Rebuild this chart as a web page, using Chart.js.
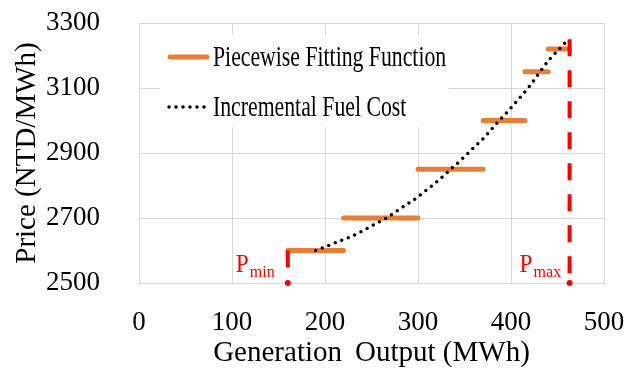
<!DOCTYPE html>
<html>
<head>
<meta charset="utf-8">
<script src="https://cdn.jsdelivr.net/npm/chart.js@4.4.1/dist/chart.umd.min.js"></script>
<style>
  html, body { margin: 0; padding: 0; background: #fff; }
  #wrap { width: 626px; height: 374px; }
</style>
</head>
<body>
<div id="wrap"><canvas id="chart"></canvas></div>
<script>
// tick labels
const xTicks = [0, 100, 200, 300, 400, 500];
const yTicks = [2500, 2700, 2900, 3100, 3300];

// piecewise fitting function, one flat step per block
const stepStart = [160, 220, 300, 370, 415, 440];
const stepEnd   = [220, 300, 370, 415, 440, 463];
const stepPrice = [2600, 2700, 2850, 3000, 3150, 3220];

// incremental fuel cost
const costOutput = [190, 206, 222, 237, 251, 266, 280, 294, 307, 320, 333, 346, 358, 371, 383, 395, 407, 419, 430, 441, 452, 460];
const costPrice  = [2600, 2618, 2636, 2655, 2677, 2700, 2727, 2753, 2781, 2811, 2844, 2878, 2911, 2947, 2986, 3023, 3062, 3102, 3145, 3187, 3220, 3245];

// generation limits
const pMin = 160, pMinTop = 2600;
const pMax = 463, pMaxTop = 3250;

const ORANGE = '#ED7D31';
const RED = '#FF0000';
const GRID = '#d9d9d9';

Chart.defaults.font.family = "'Liberation Serif', 'Times New Roman', serif";
Chart.defaults.color = '#000';

// steps are split with a null so each one is drawn on its own
const stepPoints = [];
stepStart.forEach((s, i) => {
    stepPoints.push({ x: s, y: stepPrice[i] }, { x: stepEnd[i], y: stepPrice[i] }, { x: stepEnd[i], y: null });
});

const costPoints = costOutput.map((x, i) => ({ x: x, y: costPrice[i] }));

// squeezed text like the original figure
function narrowText(ctx, text, x, y, sx) {
    ctx.save();
    ctx.translate(x, y);
    ctx.scale(sx, 1);
    ctx.fillText(text, 0, 0);
    ctx.restore();
}

// fixed plot box, no extra label padding
function fixBox(s, size) {
    if (s.isHorizontal()) s.height = size; else s.width = size;
    s.paddingTop = 0;
    s.paddingBottom = 0;
    s.paddingLeft = 0;
    s.paddingRight = 0;
}

const legendBox = {
    id: 'legendBox',
    beforeDatasetsDraw(chart) {
        const { ctx, chartArea } = chart;
        const left = chartArea.left + 21;
        const top = chartArea.top + 12;
        ctx.save();
        ctx.fillStyle = '#fff';
        ctx.fillRect(left, top, 289, 92);

        // piecewise sample
        ctx.strokeStyle = ORANGE;
        ctx.lineWidth = 5;
        ctx.lineCap = 'round';
        ctx.beginPath();
        ctx.moveTo(left + 10, top + 22);
        ctx.lineTo(left + 47, top + 22);
        ctx.stroke();

        // dotted sample
        ctx.strokeStyle = '#000';
        ctx.lineWidth = 3.5;
        ctx.setLineDash([0, 7]);
        ctx.beginPath();
        ctx.moveTo(left + 9, top + 72);
        ctx.lineTo(left + 45, top + 72);
        ctx.stroke();
        ctx.setLineDash([]);

        ctx.fillStyle = '#000';
        ctx.font = "29px 'Liberation Serif'";
        ctx.textBaseline = 'alphabetic';
        ctx.textAlign = 'left';
        narrowText(ctx, chart.data.datasets[3].label, left + 53, top + 31, 0.75);
        narrowText(ctx, chart.data.datasets[2].label, left + 53, top + 81, 0.75);
        ctx.restore();
    },
    afterDatasetsDraw(chart) {
        const { ctx, scales } = chart;
        const base = scales.y.getPixelForValue(yTicks[0]);
        const marks = [[pMin, 'min', 52], [pMax, 'max', 50]];
        ctx.save();
        ctx.fillStyle = RED;
        ctx.textBaseline = 'alphabetic';
        ctx.textAlign = 'left';
        marks.forEach(([v, sub, off]) => {
            const x = scales.x.getPixelForValue(v) - off;
            ctx.font = "26px 'Liberation Serif'";
            narrowText(ctx, 'P', x, base - 11, 0.9);
            const w = ctx.measureText('P').width * 0.9;
            ctx.font = "16px 'Liberation Serif'";
            ctx.fillText(sub, x + w + 1, base - 6);
        });
        ctx.restore();
    }
};

new Chart(document.getElementById('chart'), {
    type: 'line',
    data: {
        datasets: [
            {
                label: 'Pmin',
                data: [{ x: pMin, y: pMinTop }, { x: pMin, y: yTicks[0] }],
                borderColor: RED,
                borderWidth: 4,
                borderDash: [17, 14],
                pointRadius: [0, 3],
                pointBackgroundColor: RED,
                pointBorderWidth: 0,
                clip: false
            },
            {
                label: 'Pmax',
                data: [{ x: pMax, y: pMaxTop }, { x: pMax, y: yTicks[0] }],
                borderColor: RED,
                borderWidth: 4,
                borderDash: [17, 14],
                pointRadius: [0, 3],
                pointBackgroundColor: RED,
                pointBorderWidth: 0,
                clip: false
            },
            {
                label: 'Incremental Fuel Cost',
                data: costPoints,
                borderColor: '#000',
                borderWidth: 3.5,
                borderDash: [0, 7],
                borderCapStyle: 'round',
                cubicInterpolationMode: 'monotone',
                pointRadius: 0
            },
            {
                label: 'Piecewise Fitting Function',
                data: stepPoints,
                borderColor: ORANGE,
                borderWidth: 5,
                borderCapStyle: 'round',
                pointRadius: 0,
                spanGaps: false
            }
        ]
    },
    options: {
        responsive: true,
        maintainAspectRatio: false,
        animation: false,
        layout: { padding: { top: 23, right: 22, left: 0, bottom: 0 } },
        plugins: {
            legend: { display: false },
            tooltip: { enabled: false }
        },
        scales: {
            x: {
                type: 'linear',
                min: xTicks[0],
                max: xTicks[xTicks.length - 1],
                afterBuildTicks: s => { s.ticks = xTicks.map(v => ({ value: v })); },
                afterFit: s => fixBox(s, 91),
                grid: { color: GRID, drawTicks: false },
                border: { color: GRID },
                ticks: { padding: 24, maxRotation: 0, font: { size: 27 }, callback: v => String(v) },
                title: {
                    display: true,
                    text: 'Generation\u2009 Output (MWh)',
                    font: { size: 29 },
                    padding: { top: 0, bottom: 3 }
                }
            },
            y: {
                type: 'linear',
                min: yTicks[0],
                max: yTicks[yTicks.length - 1],
                afterBuildTicks: s => { s.ticks = yTicks.map(v => ({ value: v })); },
                afterFit: s => fixBox(s, 139),
                grid: { color: GRID, drawTicks: false },
                border: { color: GRID },
                ticks: { padding: 39, font: { size: 27 }, callback: v => String(v) },
                title: {
                    display: true,
                    text: 'Price (NTD/MWh)',
                    font: { size: 29 },
                    padding: { top: 10, bottom: 0 }
                }
            }
        }
    },
    plugins: [legendBox]
});
</script>
</body>
</html>
